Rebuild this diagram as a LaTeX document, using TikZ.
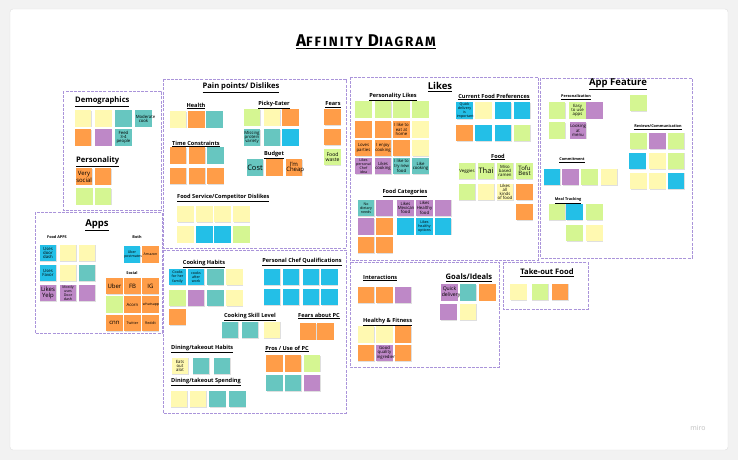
\documentclass[tikz,border=0pt]{standalone}
\usepackage{fontspec}
\setmainfont{Open Sans}
\newfontfamily\titlefont[LetterSpace=14]{Fira Sans}
\usetikzlibrary{shadows}
\definecolor{yel}{RGB}{255,249,177}
\definecolor{grn}{RGB}{213,246,146}
\definecolor{org}{RGB}{255,157,72}
\definecolor{tea}{RGB}{103,198,192}
\definecolor{blu}{RGB}{35,191,231}
\definecolor{pur}{RGB}{190,136,199}
\definecolor{framecol}{RGB}{170,148,218}
\newcommand{\hugew}[1]{{\fontsize{7.5}{8}\selectfont #1}}
\newcommand{\bigw}[1]{{\fontsize{6}{6.6}\selectfont #1}}
\newcommand{\medw}[1]{{\fontsize{5.1}{5.8}\selectfont #1}}
\newcommand{\midw}[1]{{\fontsize{4.3}{4.8}\selectfont #1}}
\hyphenpenalty=10000
\exhyphenpenalty=10000

\begin{document}
\begin{tikzpicture}[x=1pt,y=-1pt,
  sticky/.style={minimum width=16.5pt, minimum height=16.5pt, inner sep=0.3pt,
    text width=15.5pt, align=center, font=\fontsize{3.6}{4.2}\selectfont,
    drop shadow={shadow xshift=0.4pt, shadow yshift=-0.7pt, opacity=0.25}},
  board/.style={draw=framecol, line width=0.7pt, dash pattern=on 3pt off 1.2pt, fill=white},
  head/.style={font=\bfseries\fontsize{5.6}{6.5}\selectfont, inner sep=0pt},
  bighead/.style={font=\bfseries\fontsize{7.6}{9}\selectfont, inner sep=0pt},
  hugehead/.style={font=\bfseries\fontsize{9.5}{11}\selectfont, inner sep=0pt},
  tinyhead/.style={font=\bfseries\fontsize{3.8}{4.5}\selectfont, inner sep=0pt}]
\useasboundingbox (0,0) rectangle (738,460);
\fill[gray!10] (0,0) rectangle (738,460);
\draw[gray!25, fill=white, rounded corners=3pt] (10,9) rectangle (728,450);

% title
\node[font=\titlefont\bfseries\fontsize{13.5}{15}\selectfont] (title) at (366,42)
  {\underline{{\fontsize{17}{15}\selectfont A}FFINITY {\fontsize{17}{15}\selectfont D}IAGRAM}};

% boards
\draw[board] (63,91) rectangle (161,210);
\draw[board] (163,79) rectangle (346,248);
\draw[board] (350,77) rectangle (538,260);
\draw[board] (540,78) rectangle (692,258);
\draw[board] (35,212) rectangle (162,333);
\draw[board] (163,250) rectangle (346,413);
\draw[board] (350,262) rectangle (499,367);
\draw[board] (503,262) rectangle (588,309);

% Demographics / Personality
\node[bighead, anchor=west] (demog) at (75,102) {\underline{Demographics}};
\foreach \x/\c/\t [count=\i] in {83/yel/{}, 103.5/yel/{}, 123.5/tea/{}, 143.5/tea/\midw{Moderate cook}}
  \node[sticky, fill=\c] (dema\i) at (\x,118.5) {\t};
\foreach \x/\c/\t [count=\i] in {83/org/{}, 103.5/pur/{}, 123.5/tea/\midw{Feed 3-4 people}}
  \node[sticky, fill=\c] (demb\i) at (\x,137.5) {\t};
\node[bighead, anchor=west] (perso) at (76,162) {\underline{Personality}};
\foreach \x/\c/\t [count=\i] in {84/org/\bigw{Very social}, 103/org/{}}
  \node[sticky, fill=\c] (pera\i) at (\x,176.5) {\t};
\foreach \x/\c/\t [count=\i] in {84.5/grn/{}, 103/grn/{}}
  \node[sticky, fill=\c] (perb\i) at (\x,196.5) {\t};

% Pain points
\node[bighead] (pain) at (241,88) {\underline{Pain points/ Dislikes}};
\node[head] (health) at (196,106) {\underline{Health}};
\foreach \x/\c/\t [count=\i] in {178/yel/{}, 196.5/org/{}, 214.5/tea/{}}
  \node[sticky, fill=\c] (hea\i) at (\x,119.5) {\t};
\node[head] (picky) at (274,105) {\underline{Picky-Eater}};
\foreach \x/\c/\t [count=\i] in {252/grn/{}, 272/yel/{}, 290.5/org/{}}
  \node[sticky, fill=\c] (pica\i) at (\x,117.5) {\t};
\foreach \x/\c/\t [count=\i] in {252/tea/\midw{Missing protein variety}, 272/tea/{}, 290.5/blu/{}}
  \node[sticky, fill=\c] (picb\i) at (\x,137.5) {\t};
\node[head] (fears) at (333,105) {\underline{Fears}};
\foreach \y/\c/\t [count=\i] in {117/org/{}, 137/org/{}, 157/grn/\medw{Food waste}}
  \node[sticky, fill=\c] (fea\i) at (332.5,\y) {\t};
\node[head] (timec) at (196,144) {\underline{Time Constraints}};
\foreach \x/\c/\t [count=\i] in {178/org/{}, 197/org/{}, 215.5/tea/{}}
  \node[sticky, fill=\c] (tima\i) at (\x,155.5) {\t};
\foreach \x/\c/\t [count=\i] in {178/org/{}, 197/org/{}, 215.5/org/{}}
  \node[sticky, fill=\c] (timb\i) at (\x,176) {\t};
\node[head] (budget) at (274,155) {\underline{Budget}};
\foreach \x/\c/\t [count=\i] in {255/tea/\hugew{Cost}, 274.5/org/{}, 294/org/\bigw{I'm Cheap}}
  \node[sticky, fill=\c] (bud\i) at (\x,167.5) {\t};
\node[head, anchor=west] (fserv) at (177,198) {\underline{Food Service/Competitor Dislikes}};
\foreach \x/\c/\t [count=\i] in {185.5/yel/{}, 204.5/yel/{}, 222.5/yel/{}, 241.5/yel/{}}
  \node[sticky, fill=\c] (fsa\i) at (\x,214) {\t};
\foreach \x/\c/\t [count=\i] in {185.5/yel/{}, 204.5/blu/{}, 222.5/blu/{}, 241.5/grn/{}}
  \node[sticky, fill=\c] (fsb\i) at (\x,234.5) {\t};

% Likes
\node[hugehead] (likes) at (440,87) {\underline{Likes}};
\node[head] (plikes) at (393,97) {\underline{Personality Likes}};
\foreach \x/\c/\t [count=\i] in {363.5/grn/{}, 383/grn/{}, 401.5/grn/{}, 420.5/grn/{}}
  \node[sticky, fill=\c] (pla\i) at (\x,109.5) {\t};
\foreach \x/\c/\t [count=\i] in {363.5/org/{}, 383/org/{}, 401.5/org/\midw{I like to eat at home}, 420.5/yel/{}}
  \node[sticky, fill=\c] (plb\i) at (\x,129.5) {\t};
\foreach \x/\c/\t [count=\i] in {363.5/org/\midw{Loves parties}, 383/org/\midw{I enjoy cooking}, 401.5/org/{}, 420.5/yel/{}}
  \node[sticky, fill=\c] (plc\i) at (\x,148) {\t};
\foreach \x/\c/\t [count=\i] in {363.5/pur/{Likes personal Chef idea}, 383/pur/\midw{Likes cooking}, 401.5/tea/\midw{I like to try new food}, 420.5/tea/\midw{Like cooking}}
  \node[sticky, fill=\c] (pld\i) at (\x,166) {\t};
\node[head] (cfood) at (494,97) {\underline{Current Food Preferences}};
\foreach \x/\c/\t [count=\i] in {464.5/blu/{Quick delivery is important}, 483.5/yel/{}, 503/blu/{}, 522/blu/{}}
  \node[sticky, fill=\c] (cfa\i) at (\x,110.5) {\t};
\foreach \x/\c/\t [count=\i] in {464.5/org/{}, 483.5/blu/{}, 503/blu/{}, 522/grn/{}}
  \node[sticky, fill=\c] (cfb\i) at (\x,133) {\t};
\node[head] (food) at (498,157) {\underline{Food}};
\foreach \x/\c/\t [count=\i] in {467/grn/\midw{Veggies}, 486/grn/\hugew{Thai}, 505/grn/\midw{Miso based ramen}, 524.5/grn/\bigw{Tofu Best}}
  \node[sticky, fill=\c] (fda\i) at (\x,171) {\t};
\foreach \x/\c/\t [count=\i] in {467/grn/{}, 486/yel/{}, 505/yel/\midw{Likes all kinds of food}, 524.5/org/{}}
  \node[sticky, fill=\c] (fdb\i) at (\x,192) {\t};
\node[sticky, fill=org] (fdc1) at (524.5,212) {};
\node[head] (fcat) at (405,193) {\underline{Food Categories}};
\foreach \x/\c/\t [count=\i] in {366/tea/{No dietary needs}, 384.5/pur/{}, 405.5/pur/\midw{Likes Mexican food}, 424.5/pur/\midw{Likes Healthy food}, 443/pur/{}}
  \node[sticky, fill=\c] (fca\i) at (\x,208) {\t};
\foreach \x/\c/\t [count=\i] in {366/pur/{}, 384.5/org/{}, 405.5/blu/{}, 424.5/blu/{Likes healthy options}, 443/blu/{}}
  \node[sticky, fill=\c] (fcb\i) at (\x,226.5) {\t};
\foreach \x/\c/\t [count=\i] in {366/org/{}, 384.5/org/{}}
  \node[sticky, fill=\c] (fcc\i) at (\x,245) {\t};

% App Feature
\node[hugehead] (appf) at (618,84) {\underline{App Feature}};
\node[tinyhead] (persn) at (576,97) {\underline{Personalization}};
\foreach \x/\c/\t [count=\i] in {557/grn/{}, 577.5/grn/\midw{Easy to use apps}, 594.5/pur/{}}
  \node[sticky, fill=\c] (psa\i) at (\x,110.5) {\t};
\foreach \x/\c/\t [count=\i] in {557/grn/{}, 578/pur/\midw{Looking at menu}}
  \node[sticky, fill=\c] (psb\i) at (\x,130.5) {\t};
\node[sticky, fill=grn] (apft) at (638.5,103) {};
\node[tinyhead] (revc) at (658,127) {\underline{Reviews/Communication}};
\foreach \x/\c/\t [count=\i] in {638.5/grn/{}, 657.5/pur/{}, 676/grn/{}}
  \node[sticky, fill=\c] (rca\i) at (\x,141) {\t};
\foreach \x/\c/\t [count=\i] in {637.5/blu/{}, 657.5/yel/{}, 676/grn/{}}
  \node[sticky, fill=\c] (rcb\i) at (\x,161) {\t};
\foreach \x/\c/\t [count=\i] in {638.5/yel/{}, 657.5/yel/{}, 676/blu/{}}
  \node[sticky, fill=\c] (rcc\i) at (\x,181) {\t};
\node[tinyhead] (commit) at (572,160) {\underline{Commitment}};
\foreach \x/\c/\t [count=\i] in {552/blu/{}, 570.5/pur/{}, 589.5/grn/{}, 609/yel/{}}
  \node[sticky, fill=\c] (com\i) at (\x,177) {\t};
\node[tinyhead] (mealt) at (568,201) {\underline{Meal Tracking}};
\foreach \x/\c/\t [count=\i] in {557/grn/{}, 574.5/blu/{}, 594.5/grn/{}}
  \node[sticky, fill=\c] (mta\i) at (\x,212) {\t};
\foreach \x/\c/\t [count=\i] in {574.5/grn/{}, 594.5/yel/{}}
  \node[sticky, fill=\c] (mtb\i) at (\x,233) {\t};

% Apps
\node[hugehead] (apps) at (97,225) {\underline{Apps}};
\node[tinyhead] (fapps) at (57,237) {Food APPS};
\node[tinyhead] (both) at (137,237) {Both};
\node[tinyhead] (social) at (132,273) {Social};
\foreach \x/\c/\t [count=\i] in {48/blu/\midw{Uses door dash}, 68/yel/{}, 87/yel/{}}
  \node[sticky, fill=\c] (faa\i) at (\x,253) {\t};
\foreach \x/\c/\t [count=\i] in {48/blu/\midw{Uses Favor}, 68/yel/{}, 87/tea/{}}
  \node[sticky, fill=\c] (fab\i) at (\x,273) {\t};
\foreach \x/\c/\t [count=\i] in {48/pur/\bigw{Likes Yelp}, 68/pur/{Mostly uses Door dash}, 87/pur/{}}
  \node[sticky, fill=\c] (fac\i) at (\x,293) {\t};
\foreach \x/\c/\t [count=\i] in {132/blu/{Uber postmates}, 150.5/org/{Amazon}}
  \node[sticky, fill=\c] (bth\i) at (\x,254.5) {\t};
\foreach \x/\c/\t [count=\i] in {114.5/org/\bigw{Uber}, 132.5/org/\bigw{FB}, 150.5/org/\bigw{IG}}
  \node[sticky, fill=\c] (soa\i) at (\x,286) {\t};
\foreach \x/\c/\t [count=\i] in {114.5/grn/{}, 132.5/org/\midw{Acorn}, 150.5/org/{whatsapp}}
  \node[sticky, fill=\c] (sob\i) at (\x,304.5) {\t};
\foreach \x/\c/\t [count=\i] in {114.5/org/\bigw{cnn}, 132.5/org/{Twitter}, 150.5/org/{Reddit}}
  \node[sticky, fill=\c] (soc\i) at (\x,323) {\t};

% Cooking
\node[head] (cookh) at (204,264) {\underline{Cooking Habits}};
\foreach \x/\c/\t [count=\i] in {177.5/blu/{Cooks for her family}, 196/blu/{cooks after work}, 215.5/tea/{}, 234.5/yel/{}}
  \node[sticky, fill=\c] (cha\i) at (\x,277) {\t};
\foreach \x/\c/\t [count=\i] in {177.5/grn/{}, 196/pur/{}, 215.5/tea/{}, 234.5/yel/{}}
  \node[sticky, fill=\c] (chb\i) at (\x,298) {\t};
\node[sticky, fill=org] (chc1) at (177.5,317) {};
\node[head] (pchef) at (302,262) {\underline{Personal Chef Qualifications}};
\foreach \x [count=\i] in {272, 291, 311, 329.5} {
  \node[sticky, fill=blu] (pqa\i) at (\x,277) {};
  \node[sticky, fill=blu] (pqb\i) at (\x,297) {};
}
\node[head] (skill) at (250,317) {\underline{Cooking Skill Level}};
\foreach \x/\c/\t [count=\i] in {230/tea/{}, 250/tea/{}, 272/yel/{}}
  \node[sticky, fill=\c] (csl\i) at (\x,330) {\t};
\node[head] (fearpc) at (319,316) {\underline{Fears about PC}};
\foreach \x/\c/\t [count=\i] in {308/org/{}, 325.5/org/{}}
  \node[sticky, fill=\c] (fpc\i) at (\x,331.5) {\t};
\node[head, anchor=west] (dhab) at (171,349) {\underline{Dining/takeout Habits}};
\foreach \x/\c/\t [count=\i] in {180/yel/\midw{Eats out alot}, 201/tea/{}, 222/tea/{}}
  \node[sticky, fill=\c] (dha\i) at (\x,366) {\t};
\node[head, anchor=west] (dspend) at (171,382) {\underline{Dining/takeout Spending}};
\foreach \x/\c/\t [count=\i] in {179/yel/{}, 198/yel/{}, 217.5/tea/{}, 237.5/tea/{}}
  \node[sticky, fill=\c] (dsp\i) at (\x,399) {\t};
\node[head] (prospc) at (287,349) {\underline{Pros / Use of PC}};
\foreach \x/\c/\t [count=\i] in {274.5/org/{}, 293/org/{}, 312/grn/{}}
  \node[sticky, fill=\c] (ppa\i) at (\x,363.5) {\t};
\foreach \x/\c/\t [count=\i] in {274.5/tea/{}, 293/tea/{}, 312/pur/{}}
  \node[sticky, fill=\c] (ppb\i) at (\x,383) {\t};

% Interactions / Goals
\node[head, anchor=west] (inter) at (363,278) {\underline{Interactions}};
\foreach \x/\c/\t [count=\i] in {366/org/{}, 384.5/org/{}, 403/pur/{}}
  \node[sticky, fill=\c] (int\i) at (\x,295) {\t};
\node[head, anchor=west] (hfit) at (363,322) {\underline{Healthy \& Fitness}};
\foreach \x/\c/\t [count=\i] in {366/yel/{}, 384.5/yel/{}, 403/org/{}}
  \node[sticky, fill=\c] (hfa\i) at (\x,334.5) {\t};
\foreach \x/\c/\t [count=\i] in {366/org/{}, 384.5/pur/\midw{Good quality ingredients}, 403/org/{}}
  \node[sticky, fill=\c] (hfb\i) at (\x,353) {\t};
\node[bighead] (goals) at (469,278) {\underline{Goals/Ideals}};
\foreach \x/\c/\t [count=\i] in {449.5/pur/\medw{Quick delivery}, 468/tea/{}, 487.5/org/{}}
  \node[sticky, fill=\c] (gia\i) at (\x,292.5) {\t};
\foreach \x/\c/\t [count=\i] in {448.5/pur/{}, 468/yel/{}}
  \node[sticky, fill=\c] (gib\i) at (\x,312) {\t};

% Take-out Food
\node[bighead] (takeout) at (547,273) {\underline{Take-out Food}};
\foreach \x/\c/\t [count=\i] in {518.5/yel/{}, 540/grn/{}, 560/org/{}}
  \node[sticky, fill=\c] (tko\i) at (\x,292) {\t};

\node[font=\fontsize{7}{8}\selectfont, text=gray!50] (miro) at (698,428) {miro};
\end{tikzpicture}
\end{document}
